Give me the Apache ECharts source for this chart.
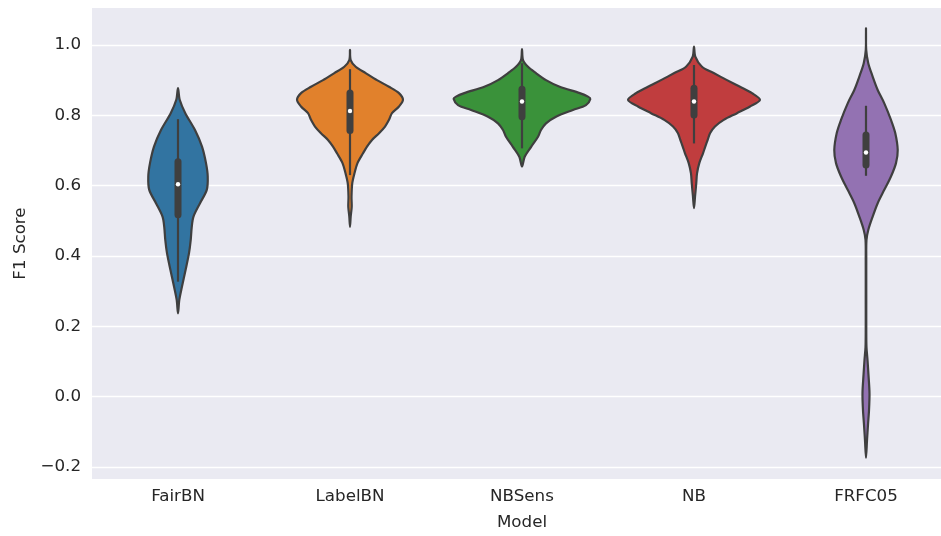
<!DOCTYPE html>
<html>
<head>
<meta charset="utf-8">
<script src="https://cdn.jsdelivr.net/npm/echarts@6/dist/echarts.min.js"></script>
<style>
html,body{margin:0;padding:0;background:#ffffff;}
#chart{width:941px;height:536px;}
</style>
</head>
<body>
<div id="chart"></div>
<script>
// ---- data ----
const models = ['FairBN', 'LabelBN', 'NBSens', 'NB', 'FRFC05'];
const yTicks = [-0.2, 0.0, 0.2, 0.4, 0.6, 0.8, 1.0];

// KDE profiles: F1 value grid and relative density (1 = widest violin)
const fairbnValues  = [0.877,0.844,0.806,0.758,0.711,0.664,0.626,0.588,0.550,0.512,0.483,0.446,0.408,0.360,0.313,0.275,0.237];
const fairbnDensity = [0,0.025,0.106,0.247,0.349,0.407,0.432,0.418,0.320,0.225,0.200,0.185,0.160,0.110,0.058,0.019,0];

const labelbnValues  = [0.986,0.957,0.938,0.920,0.900,0.881,0.863,0.844,0.825,0.806,0.787,0.768,0.749,0.730,0.711,0.692,0.664,0.635,0.607,0.569,0.540,0.512,0.483];
const labelbnDensity = [0,0.010,0.083,0.228,0.392,0.567,0.712,0.770,0.712,0.610,0.567,0.509,0.422,0.320,0.247,0.189,0.109,0.065,0.033,0.022,0.025,0.010,0];

const nbsensValues  = [0.988,0.957,0.938,0.920,0.900,0.881,0.863,0.853,0.846,0.829,0.815,0.796,0.777,0.758,0.739,0.711,0.682,0.654];
const nbsensDensity = [0,0.015,0.087,0.203,0.349,0.548,0.839,0.959,0.993,0.930,0.741,0.494,0.349,0.276,0.233,0.135,0.039,0];

const nbValues  = [0.995,0.967,0.938,0.920,0.900,0.881,0.863,0.844,0.825,0.806,0.787,0.768,0.749,0.730,0.711,0.692,0.664,0.635,0.607,0.569,0.536];
const nbDensity = [0,0.019,0.116,0.286,0.480,0.669,0.843,0.959,0.814,0.625,0.432,0.305,0.233,0.199,0.164,0.131,0.077,0.044,0.033,0.015,0];

const frfc05Values  = [1.047,0.986,0.948,0.910,0.872,0.834,0.787,0.749,0.701,0.664,0.626,0.588,0.550,0.512,0.474,0.446,0.389,0.275,0.190,0.141,0.104,0.062,0.010,-0.038,-0.080,-0.123,-0.174];
const frfc05Density = [0,0.003,0.033,0.097,0.170,0.266,0.363,0.426,0.461,0.436,0.363,0.266,0.170,0.097,0.033,0.007,0.004,0.004,0.004,0.007,0.022,0.036,0.051,0.044,0.029,0.015,0];

// inner box statistics
const whiskerLow  = [0.327, 0.630, 0.706, 0.720, 0.628];
const q1          = [0.517, 0.757, 0.796, 0.801, 0.659];
const medians     = [0.604, 0.812, 0.839, 0.839, 0.694];
const q3          = [0.668, 0.863, 0.874, 0.877, 0.744];
const whiskerHigh = [0.789, 0.931, 0.948, 0.943, 0.827];

// ---- chart ----
const profiles = [
  [fairbnValues, fairbnDensity],
  [labelbnValues, labelbnDensity],
  [nbsensValues, nbsensDensity],
  [nbValues, nbDensity],
  [frfc05Values, frfc05Density]
];
const colors = ['#3274a1', '#e1812c', '#3a923a', '#c03d3e', '#9372b2'];
const edge = '#3f3f3f';
const font = 'DejaVu Sans';
const textColor = '#262626';

const seriesData = models.map((m, i) => [i, medians[i], q1[i], q3[i], whiskerLow[i], whiskerHigh[i]]);

function renderViolin(params, api) {
  const i = api.value(0);
  const band = api.size([1, 0])[0];
  const maxHalf = band * 0.4;
  const vals = profiles[i][0];
  const dens = profiles[i][1];
  const cx = api.coord([i, 0])[0];
  const pts = [];
  for (let k = 0; k < vals.length; k++) {
    const y = api.coord([i, vals[k]])[1];
    pts.push([cx + dens[k] * maxHalf, y]);
  }
  for (let k = vals.length - 2; k >= 1; k--) {
    const y = api.coord([i, vals[k]])[1];
    pts.push([cx - dens[k] * maxHalf, y]);
  }
  const yLow = api.coord([i, api.value(4)])[1];
  const yHigh = api.coord([i, api.value(5)])[1];
  const yQ1 = api.coord([i, api.value(2)])[1];
  const yQ3 = api.coord([i, api.value(3)])[1];
  const yMed = api.coord([i, api.value(1)])[1];
  return {
    type: 'group',
    children: [
      {
        type: 'polygon',
        shape: { points: pts, smooth: 0.3 },
        style: { fill: colors[i], stroke: edge, lineWidth: 2.2, lineJoin: 'round' }
      },
      {
        type: 'line',
        shape: { x1: cx, y1: yLow, x2: cx, y2: yHigh },
        style: { stroke: edge, lineWidth: 2.2 }
      },
      {
        type: 'line',
        shape: { x1: cx, y1: yQ1, x2: cx, y2: yQ3 },
        style: { stroke: edge, lineWidth: 7, lineCap: 'round' }
      },
      {
        type: 'circle',
        shape: { cx: cx, cy: yMed, r: 2.2 },
        style: { fill: '#ffffff' }
      }
    ]
  };
}

const chart = echarts.init(document.getElementById('chart'), null, { renderer: 'canvas' });
chart.setOption({
  animation: false,
  backgroundColor: '#ffffff',
  grid: { left: 92, top: 8, width: 860, height: 471, containLabel: false, outerBoundsMode: 'none',
          show: true, backgroundColor: '#eaeaf2', borderWidth: 0 },
  xAxis: {
    type: 'category',
    data: models,
    boundaryGap: true,
    name: 'Model',
    nameLocation: 'middle',
    nameGap: 35,
    nameTextStyle: { fontFamily: font, fontSize: 16.7, color: textColor },
    axisLine: { show: false },
    axisTick: { show: false },
    splitLine: { show: false },
    axisLabel: { fontFamily: font, fontSize: 16.7, color: textColor, margin: 9 }
  },
  yAxis: {
    type: 'value',
    min: -0.234,
    max: 1.105,
    name: 'F1 Score',
    nameLocation: 'middle',
    nameGap: 61,
    nameTextStyle: { fontFamily: font, fontSize: 16.7, color: textColor },
    axisLine: { show: false },
    axisTick: { show: false, customValues: yTicks },
    axisLabel: {
      customValues: yTicks,
      fontFamily: font, fontSize: 16.7, color: textColor, margin: 11,
      formatter: v => Number(v).toFixed(1).replace('-', '\u2212')
    },
    splitLine: { show: true, lineStyle: { color: '#ffffff', width: 1.3 } }
  },
  series: [{
    type: 'custom',
    renderItem: renderViolin,
    encode: { x: 0, y: 1 },
    data: seriesData,
    clip: false
  }]
});
</script>
</body>
</html>
